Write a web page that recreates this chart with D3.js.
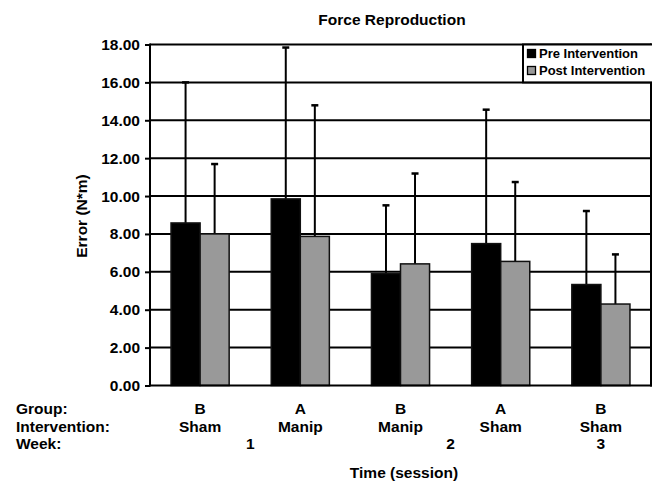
<!DOCTYPE html>
<html>
<head>
<meta charset="utf-8">
<script src="https://cdn.jsdelivr.net/npm/d3@7"></script>
<style>
  html, body { margin: 0; padding: 0; background: #fff; }
  svg { display: block; }
  text { font-family: "Liberation Sans", Arial, Helvetica, sans-serif; font-weight: bold; fill: #000; }
</style>
</head>
<body>
<svg id="chart" width="652" height="483"></svg>
<script>
// ---- data ----
const sessions = ["S1", "S2", "S3", "S4", "S5"];
const groups = ["B", "A", "B", "A", "B"];
const interventions = ["Sham", "Manip", "Manip", "Sham", "Sham"];
const weeks = [1, 1, 2, 2, 3];
const seriesNames = ["Pre Intervention", "Post Intervention"];
const preMean = [8.58, 9.85, 5.91, 7.49, 5.33];
const preSD = [7.42, 7.99, 3.60, 7.07, 3.88];
const postMean = [8.00, 7.87, 6.42, 6.55, 4.30];
const postSD = [3.69, 6.92, 4.77, 4.19, 2.62];
const yTicks = [0, 2, 4, 6, 8, 10, 12, 14, 16, 18];
const rowLabels = ["Group:", "Intervention:", "Week:"];

(function () {
// ---- layout ----
const svg = d3.select("#chart");
const pL = 150, pR = 651, pT = 44.5, pB = 385.5;
const colors = ["#000000", "#999999"];

const x0 = d3.scaleBand().domain(sessions).range([pL, pR]).padding(0);
const x1 = d3.scaleBand().domain(seriesNames)
  .range([x0.bandwidth() * 0.21, x0.bandwidth() * 0.79]).padding(0);
const y = d3.scaleLinear().domain([0, 18]).range([pB, pT]);

// gridlines
svg.append("g").selectAll("line").data(yTicks.filter(d => d > 0)).join("line")
  .attr("x1", pL).attr("x2", pR)
  .attr("y1", d => y(d)).attr("y2", d => y(d))
  .attr("stroke", "#000").attr("stroke-width", 2);

// y axis
const yAxis = d3.axisLeft(y).tickValues(yTicks).tickFormat(d3.format(".2f"))
  .tickSize(5).tickPadding(5);
const ga = svg.append("g").attr("transform", `translate(${pL},0)`).call(yAxis);
ga.select(".domain").remove();
ga.selectAll(".tick line").attr("stroke", "#000").attr("stroke-width", 2);
ga.selectAll(".tick text").style("font-size", "15.5px").style("font-family", "Liberation Sans, Arial, sans-serif").style("font-weight", "bold").attr("fill", "#000");

// rows of data
const rows = sessions.map((s, i) => ({
  s, vals: [
    { name: seriesNames[0], mean: preMean[i], sd: preSD[i] },
    { name: seriesNames[1], mean: postMean[i], sd: postSD[i] }
  ]
}));

// error bars (drawn first, bars on top)
const eg = svg.append("g");
rows.forEach(r => {
  r.vals.forEach(v => {
    const cx = x0(r.s) + x1(v.name) + x1.bandwidth() / 2;
    eg.append("line").attr("x1", cx).attr("x2", cx)
      .attr("y1", y(v.mean)).attr("y2", y(v.mean + v.sd))
      .attr("stroke", "#000").attr("stroke-width", 2);
    eg.append("line").attr("x1", cx - 3.5).attr("x2", cx + 3.5)
      .attr("y1", y(v.mean + v.sd)).attr("y2", y(v.mean + v.sd))
      .attr("stroke", "#000").attr("stroke-width", 2.5);
  });
});

// bars
const bg = svg.append("g");
rows.forEach(r => {
  r.vals.forEach((v, j) => {
    bg.append("rect")
      .attr("x", x0(r.s) + x1(v.name))
      .attr("y", y(v.mean))
      .attr("width", x1.bandwidth())
      .attr("height", y(0) - y(v.mean))
      .attr("fill", colors[j])
      .attr("stroke", "#111").attr("stroke-width", 1.5);
  });
});

// frame: left axis, bottom, right
svg.append("line").attr("x1", pL).attr("x2", pL).attr("y1", pT - 1).attr("y2", pB + 1)
  .attr("stroke", "#000").attr("stroke-width", 2);
svg.append("line").attr("x1", pL).attr("x2", pR + 1).attr("y1", pB).attr("y2", pB)
  .attr("stroke", "#000").attr("stroke-width", 2);
svg.append("line").attr("x1", pR).attr("x2", pR).attr("y1", pT - 1).attr("y2", pB + 1)
  .attr("stroke", "#000").attr("stroke-width", 2);

// legend
const lg = svg.append("g");
lg.append("rect").attr("x", 523).attr("y", pT).attr("width", 140).attr("height", y(16) - pT)
  .attr("fill", "#fff").attr("stroke", "#000").attr("stroke-width", 2);
seriesNames.forEach((n, i) => {
  lg.append("rect").attr("x", 527.5).attr("y", 49.5 + i * 17).attr("width", 8).attr("height", 8)
    .attr("fill", colors[i]).attr("stroke", "#000").attr("stroke-width", 1.3);
  lg.append("text").attr("x", 539).attr("y", 57.5 + i * 17).style("font-size", "13px").text(n);
});

// category rows
const rowY = [414, 431.5, 448.5];
const cg = svg.append("g").style("font-size", "15.5px");
rowLabels.forEach((t, i) => cg.append("text").attr("x", 16).attr("y", rowY[i]).text(t));
sessions.forEach((s, i) => {
  const cx = x0(s) + x0.bandwidth() / 2;
  cg.append("text").attr("x", cx).attr("y", rowY[0]).attr("text-anchor", "middle").text(groups[i]);
  cg.append("text").attr("x", cx).attr("y", rowY[1]).attr("text-anchor", "middle").text(interventions[i]);
});
Array.from(new Set(weeks)).forEach(w => {
  const cs = sessions.filter((s, i) => weeks[i] === w).map(s => x0(s) + x0.bandwidth() / 2);
  cg.append("text").attr("x", d3.mean(cs)).attr("y", rowY[2]).attr("text-anchor", "middle").text(w);
});

// titles
svg.append("text").attr("x", 392).attr("y", 24.5).attr("text-anchor", "middle")
  .style("font-size", "15.5px").text("Force Reproduction");
svg.append("text").attr("x", 404).attr("y", 478).attr("text-anchor", "middle")
  .style("font-size", "15.5px").text("Time (session)");
svg.append("text").attr("transform", "translate(87,216) rotate(-90)").attr("text-anchor", "middle")
  .style("font-size", "15.5px").text("Error (N*m)");
})();
</script>
</body>
</html>
